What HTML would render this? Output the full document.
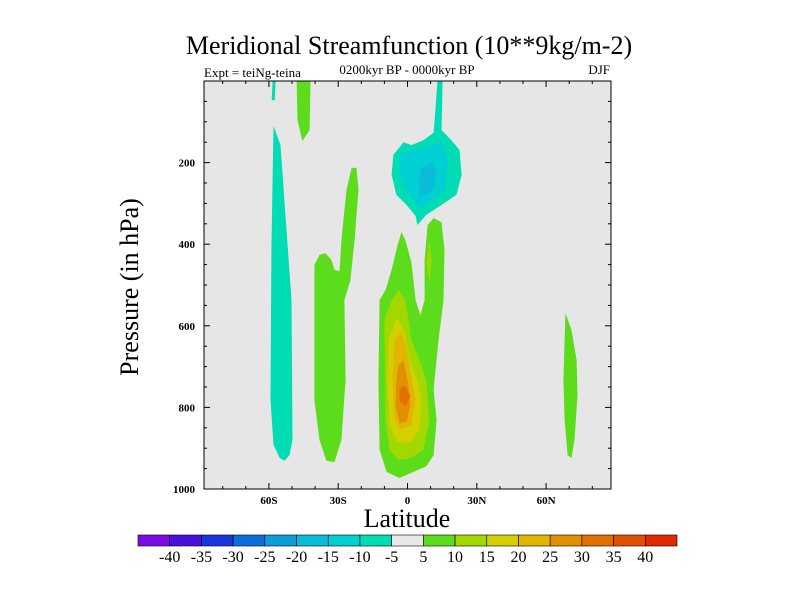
<!DOCTYPE html>
<html><head><meta charset="utf-8"><style>
body{margin:0;background:#fff}
svg{display:block;font-family:"Liberation Serif",serif}
</style></head><body>
<svg id="chart" width="800" height="600" viewBox="0 0 800 600" xmlns="http://www.w3.org/2000/svg">
<text x="409" y="54" font-size="26" text-anchor="middle">Meridional Streamfunction (10**9kg/m-2)</text>
<text x="407" y="74" font-size="13" text-anchor="middle">0200kyr BP - 0000kyr BP</text>
<text x="204" y="77" font-size="13">Expt = teiNg-teina</text>
<text x="610" y="74" font-size="13" text-anchor="end">DJF</text>
<text transform="translate(138,287) rotate(-90)" font-size="26" text-anchor="middle">Pressure (in hPa)</text>
<text x="407" y="527" font-size="26" text-anchor="middle">Latitude</text>
<rect x="204" y="81" width="407" height="408" fill="#e6e6e6"/>
<g id="fills"></g>
<rect x="204" y="81" width="407" height="408" fill="none" stroke="#000" stroke-width="1"/>
<g id="ticks"></g>
<g id="cbar"></g>
</svg>
<script>
const levelColors = ["#7a0ee0","#4a12d8","#1c34d8","#0a6fd8","#0a9fd8","#0abcd8","#00cfd4","#00dcb4","#e8e8e8","#5ddc1c","#a2d800","#d2d000","#e2b600","#e09000","#e07000","#e05000","#e02a00"];
const colorbarLabels = ["-40","-35","-30","-25","-20","-15","-10","-5","5","10","15","20","25","30","35","40"];
const xTickValues = [-60,-30,0,30,60];
const xTickLabels = ["60S","30S","0","30N","60N"];
const yTickValues = [200,400,600,800,1000];
const yTickLabels = ["200","400","600","800","1000"];
// contour regions: level index into levelColors, lats, pressures (hPa)
const regionLevels = [7,7,9,9,9,9,10,10,11,12,13,7,6,5,14];
const regionLats = [
 [-58.4,-57.1,-57.5,-58.8],
 [-58,-55,-52.4,-50.2,-49.8,-51.1,-53.2,-55.3,-58,-59.3,-58.9],
 [-48,-42,-42.4,-45.5,-47.6],
 [-40.3,-38.1,-35.5,-32.9,-31.6,-29.4,-28.6,-26.4,-24.2,-22.1,-21.2,-22.9,-24.7,-27.3,-26.8,-28.6,-31.6,-35.1,-38.1,-40.3],
 [-12.1,-9.5,-6.9,-4.3,-2.6,-0.9,1.7,3.5,5.6,7.4,7.4,8.7,11.3,14.7,16,15.6,13.4,11.3,12.6,11.3,8.2,2.6,-3.5,-9.1,-12.1,-12.6],
 [68.4,71,73.2,73.6,72.3,71,69.3,68,67.5,68],
 [-10,-6.9,-3.9,-0.9,1.7,5.2,8.2,9.5,6.9,1.7,-3.9,-7.8,-9.5],
 [9.5,10.4,9.5,8.2],
 [-8.2,-4.8,-1.7,0.9,4.3,6.1,5.2,0.9,-4.3,-7.8,-8.7],
 [-5.6,-2.6,-0.4,1.7,3.5,1.7,-2.6,-5.6,-6.5],
 [-3.9,-1.7,0.4,1.3,-0.4,-3.5,-5.2,-4.8],
 [13,15.2,14.7,19,22.5,23.4,21.2,14.7,8.2,4.3,3.5,-0.4,-4.8,-6.9,-6.1,-1.7,1.7,6.9,11.3,12.1],
 [-3.5,1.7,8.2,14.7,17.3,16.5,10.4,6.1,2.6,-1.7,-3.5],
 [6.1,10.4,12.6,11.3,8.2,5.2,4.8],
 [-3.5,-1.3,1.3,-0.9,-3.5]
];
const regionPres = [
 [0,0,47,47],
 [110,157,365,537,880,917,931,924,892,782,414],
 [0,0,120,147,96],
 [451,426,422,439,463,466,390,267,213,213,267,390,488,537,733,880,934,931,880,782],
 [537,512,463,402,370,390,444,537,574,537,439,353,336,346,414,537,635,757,831,917,944,958,973,958,904,733],
 [569,610,684,770,880,924,917,831,733,635],
 [586,537,512,537,635,684,733,831,904,924,929,904,831],
 [390,439,493,444],
 [635,581,610,684,733,782,855,885,885,843,733],
 [635,615,659,721,782,843,855,831,733],
 [696,684,745,794,836,838,794,733],
 [0,0,120,145,169,230,279,304,328,353,331,304,279,230,181,150,157,145,127,71],
 [181,169,164,145,194,267,292,311,292,255,218],
 [213,201,223,262,279,284,243],
 [757,745,772,797,784]
];
const ns="http://www.w3.org/2000/svg";
const X0=204,X1=611,Y0=81,Y1=489,LATMIN=-88.1,LATMAX=88.1;
const xs=l=>X0+(l-LATMIN)/(LATMAX-LATMIN)*(X1-X0);
const ys=p=>Y0+p/1000*(Y1-Y0);
const fills=document.getElementById('fills');
regionLevels.forEach((lv,i)=>{
  const pg=document.createElementNS(ns,'polygon');
  pg.setAttribute('points',regionLats[i].map((l,j)=>xs(l).toFixed(1)+','+ys(regionPres[i][j]).toFixed(1)).join(' '));
  pg.setAttribute('fill',levelColors[lv]);
  
  
  fills.appendChild(pg);
});
const tk=document.getElementById('ticks');
function line(x1,y1,x2,y2,name){const l=document.createElementNS(ns,'line');l.setAttribute('x1',x1);l.setAttribute('y1',y1);l.setAttribute('x2',x2);l.setAttribute('y2',y2);l.setAttribute('stroke','#000');l.setAttribute('stroke-width','1');


tk.appendChild(l);}
function text(x,y,s,name,size,anchor,weight){const t=document.createElementNS(ns,'text');t.setAttribute('x',x);t.setAttribute('y',y);t.setAttribute('font-size',size);t.setAttribute('text-anchor',anchor);if(weight)t.setAttribute('font-weight',weight);t.textContent=s;


return t;}
for(let l=-80;l<=80;l+=10){const x=xs(l),maj=l%30===0,len=maj?6:3;line(x,Y1,x,Y1-len,'x-tick');line(x,Y0,x,Y0+len,'x-tick-top');}
for(let p=50;p<1000;p+=50){const y=ys(p),maj=p%200===0,len=maj?6:3;line(X0,y,X0+len,y,'y-tick');line(X1,y,X1-len,y,'y-tick-right');}
xTickValues.forEach((v,i)=>tk.appendChild(text(xs(v),504,xTickLabels[i],'x-tick-label',11,'middle','bold')));
yTickValues.forEach((v,i)=>tk.appendChild(text(X0-9,ys(v)+4,yTickLabels[i],'y-tick-label',11,'end','bold')));
const cb=document.getElementById('cbar');const CB0=138,CB1=677,bw=(CB1-CB0)/levelColors.length;
levelColors.forEach((c,i)=>{const r=document.createElementNS(ns,'rect');r.setAttribute('x',CB0+i*bw);r.setAttribute('y',535);r.setAttribute('width',bw);r.setAttribute('height',11);r.setAttribute('fill',c);r.setAttribute('stroke','#000');r.setAttribute('stroke-width','0.6');


cb.appendChild(r);});
colorbarLabels.forEach((s,i)=>cb.appendChild(text(CB0+(i+1)*bw,562,s,'colorbar-label',16,'middle')));
</script>
</body></html>
